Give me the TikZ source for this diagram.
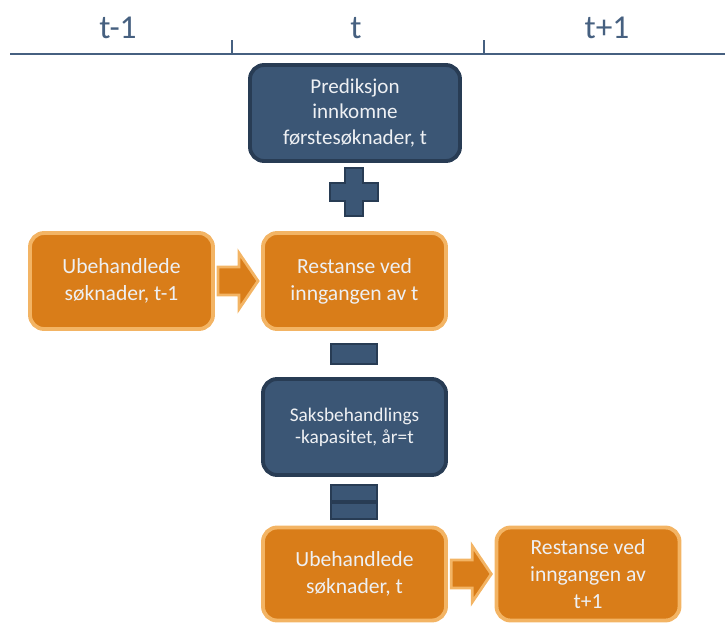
\documentclass[tikz,border=0pt]{standalone}
\usepackage{fontspec}
\setmainfont{Carlito}
\usetikzlibrary{calc}
\definecolor{boxblue}{RGB}{59,86,117}
\definecolor{edgeblue}{RGB}{40,60,84}
\definecolor{boxorange}{RGB}{217,125,25}
\definecolor{edgeorange}{RGB}{243,180,100}
\definecolor{boxtext}{RGB}{238,240,243}
\definecolor{axisblue}{RGB}{70,96,128}
\tikzset{
  bluebox/.style={rounded corners=8pt,fill=boxblue,draw=edgeblue,line width=2.2pt,
    text=boxtext,align=center,inner sep=2pt,minimum width=183*0.02cm,minimum height=96*0.02cm},
  orangebox/.style={rounded corners=8pt,fill=boxorange,draw=edgeorange,line width=2.2pt,
    text=boxtext,align=center,inner sep=2pt,minimum width=183*0.02cm,minimum height=96*0.02cm,
    font=\fontsize{12.3}{15.5}\selectfont},
  blockarrow/.style={fill=boxorange,draw=edgeorange,line width=1.6pt,line join=miter},
  opsign/.style={fill=boxblue,draw=edgeblue,line width=1.6pt},
  period/.style={text=axisblue,font=\fontsize{19}{22}\selectfont}
}
\newcommand{\blockpil}[1]{%
  \draw[blockarrow] ($(#1)+(-20,-14)$) -- ++(21,0) -- ++(0,-14) -- ++(19,28)
    -- ++(-19,28) -- ++(0,-14) -- ++(-21,0) -- cycle;}
\begin{document}
\begin{tikzpicture}[x=0.02cm,y=-0.02cm]
  \useasboundingbox (0,0) rectangle (725,623);
  % tidslinje
  \draw[axisblue,line width=1.3pt] (10,54) -- (725,54);
  \draw[axisblue,line width=1pt] (232,40) -- (232,54);
  \draw[axisblue,line width=1pt] (484,40) -- (484,54);
  \node[period] (tm) at (118,28) {t-1};
  \node[period] (tn) at (356,28) {t};
  \node[period] (tp) at (607,28) {t+1};
  % bokser
  \node[bluebox,minimum width=210*0.02cm,font=\fontsize{12}{14.5}\selectfont] (pred) at (355,113)
    {Prediksjon\\innkomne\\førstesøknader, t};
  \node[orangebox] (ub1) at (121.5,281) {Ubehandlede\\søknader, t-1};
  \node[orangebox] (rest1) at (354.5,281) {Restanse ved\\inngangen av t};
  \node[bluebox,font=\fontsize{11}{12.5}\selectfont] (kap) at (354.5,427)
    {Saksbehandlings\\-kapasitet, år=t};
  \node[orangebox,minimum height=93*0.02cm] (ub2) at (354.5,574) {Ubehandlede\\søknader, t};
  \node[orangebox,minimum height=93*0.02cm] (rest2) at (588,574) {Restanse ved\\inngangen av\\t+1};
  % piler
  \coordinate (pil1) at ($(ub1.east)!0.5!(rest1.west)$);
  \coordinate (pil2) at ($(ub2.east)!0.5!(rest2.west)$);
  \blockpil{pil1}
  \blockpil{pil2}
  % tegn
  \coordinate (pluss) at (354,192);
  \draw[opsign] ($(pluss)+(-9,-24)$) -- ++(18,0) -- ++(0,15) -- ++(15,0) -- ++(0,18)
    -- ++(-15,0) -- ++(0,15) -- ++(-18,0) -- ++(0,-15) -- ++(-15,0) -- ++(0,-18)
    -- ++(15,0) -- cycle;
  \coordinate (minus) at (354,354);
  \draw[opsign] ($(minus)+(-23,-10)$) rectangle ($(minus)+(23,10)$);
  \coordinate (lik) at (354,502);
  \draw[opsign] ($(lik)+(-23,-17)$) rectangle ($(lik)+(23,-1)$);
  \draw[opsign] ($(lik)+(-23,1)$) rectangle ($(lik)+(23,17)$);
\end{tikzpicture}
\end{document}
